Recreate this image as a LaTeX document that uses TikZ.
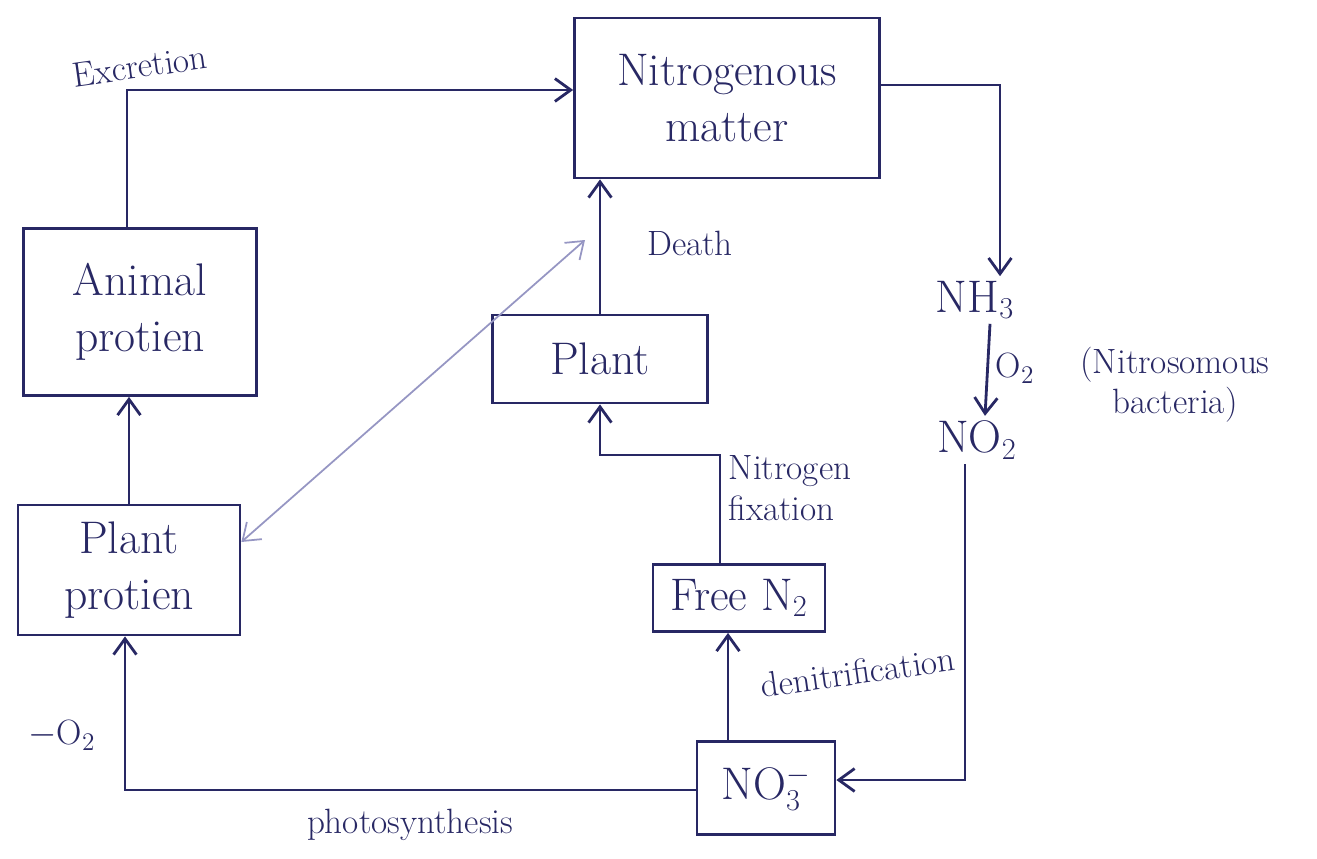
\documentclass[tikz,border=0pt]{standalone}
\usetikzlibrary{arrows.meta}
\definecolor{ink}{RGB}{40,40,100}
\definecolor{faint}{RGB}{150,150,195}
\begin{document}
\begin{tikzpicture}
[x=0.02cm,y=-0.02cm,color=ink,line width=1.6pt,%
  >={Straight Barb[length=9pt,width=13pt]},%
  box/.style={shape=rectangle,draw,line width=1.6pt,align=center,font=\fontsize{26}{32}\selectfont},%
  chem/.style={inner sep=2pt,font=\fontsize{26}{30}\selectfont},%
  lbl/.style={inner sep=1pt,align=left,font=\fontsize{20}{23}\selectfont}]
\useasboundingbox (0,0) rectangle (1317,858);
% boxes
\node[box,minimum width=6.1cm,minimum height=3.2cm] (nitro) at (727,98) {Nitrogenous\\matter};
\node[box,minimum width=4.66cm,minimum height=3.34cm] (animal) at (140,312) {Animal\\protien};
\node[box,minimum width=4.44cm,minimum height=2.6cm] (pprot) at (129,570) {Plant\\protien};
\node[box,minimum width=4.3cm,minimum height=1.76cm] (plant) at (600,359) {Plant};
\node[box,minimum width=3.44cm,minimum height=1.34cm] (freen) at (739,598) {Free N$_2$};
\node[box,minimum width=2.76cm,minimum height=1.86cm] (no3) at (766,788) {NO$_3^-$};
\node[chem] (nh3) at (975,300) {NH$_3$};
\node[chem] (no2) at (977,440) {NO$_2$};
% bends of the connectors
\coordinate (exc) at (127,90);
\coordinate (nr) at (1000,85);
\coordinate (nc) at (965,780);
\coordinate (dn) at (728,700);
\coordinate (fx) at (720,455);
\coordinate (ph) at (125,790);
\coordinate (dt) at (585,240);
\draw[->] (animal.north -| exc) -- (exc) -- (exc -| nitro.west);
\draw[->] (nitro.east |- nr) -- (nr) -- (nr |- nh3.north);
\draw[->] (nh3.south -| 990,0) -- (no2.north -| 985,0);
\draw[->] (no2.south -| nc) -- (nc) -- (no3.east |- nc);
\draw[->] (no3.north -| dn) -- (freen.south -| dn);
\draw[->] (freen.north -| fx) -- (fx) -| (plant.south);
\draw[->] (plant.north) -- (plant.north |- nitro.south);
\draw[->] (no3.west |- ph) -- (ph) -- (pprot.south -| ph);
\draw[->] (pprot.north) -- (pprot.north |- animal.south);
\draw[<->,faint,line width=1pt] (pprot.14) -- (dt);
% labels
\node[lbl,rotate=8] (lexc) at (140,66) {Excretion};
\node[lbl] (ldeath) at (690,243) {Death};
\node[lbl] (lfix) at (790,488) {Nitrogen\\fixation};
\node[lbl,rotate=8] (ldenit) at (858,672) {denitrification};
\node[lbl] (lphoto) at (410,825) {photosynthesis};
\node[lbl] (lmo) at (62,735) {$-$O$_2$};
\node[lbl] (lo2) at (1015,368) {O$_2$};
\node[lbl,align=center] (lbact) at (1175,385) {(Nitrosomous\\bacteria)};
\end{tikzpicture}
\end{document}
